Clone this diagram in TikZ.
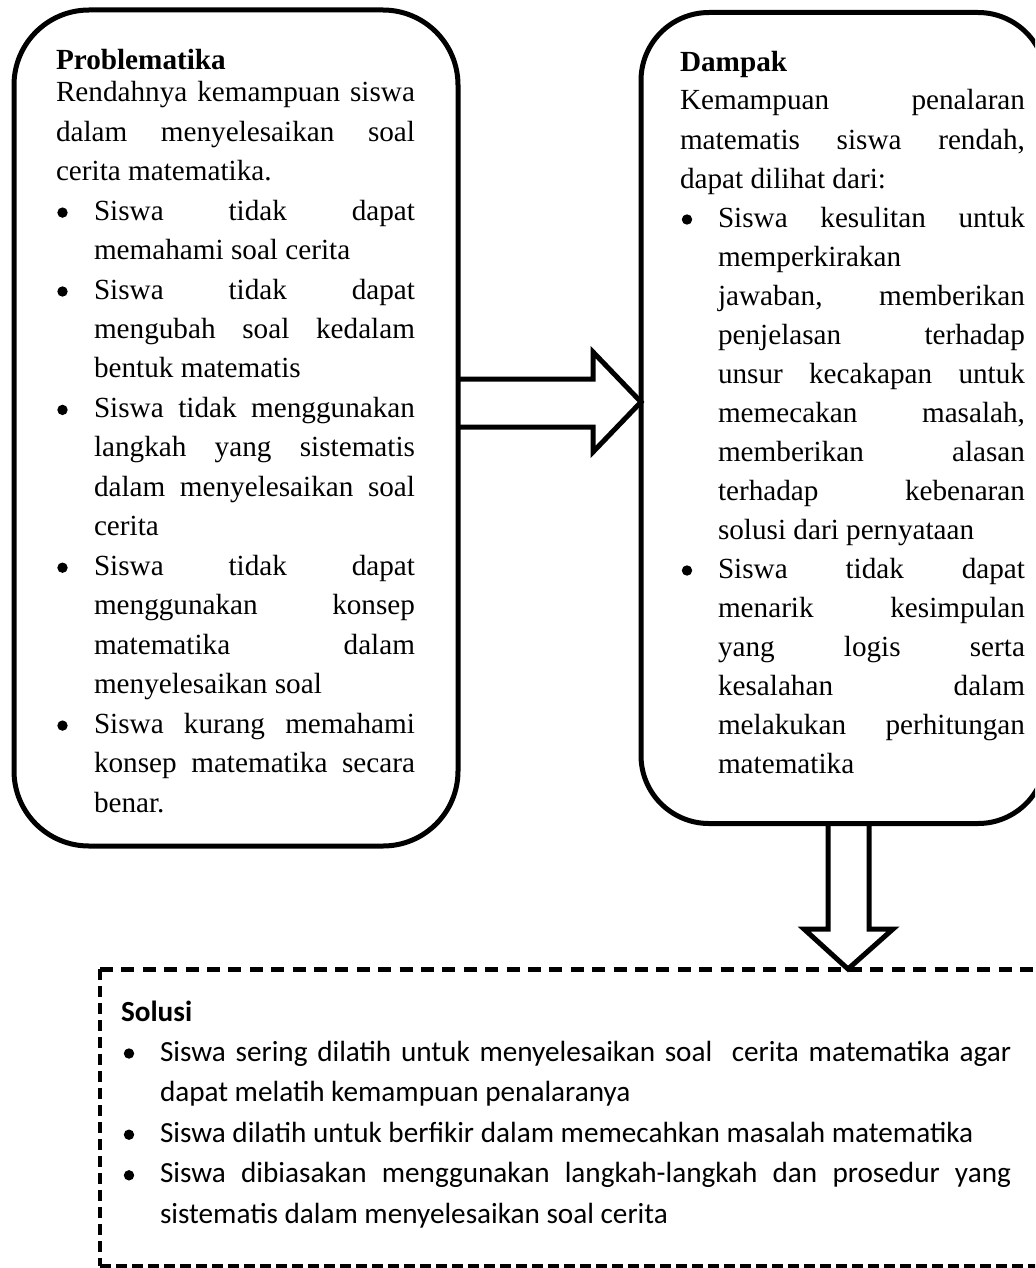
\documentclass[tikz,border=0pt]{standalone}
\usepackage{fontspec}
\setmainfont{Liberation Serif}
\newfontfamily\solfont{Carlito}
\usetikzlibrary{calc}
\newcommand{\jline}[5]{\node[txt] (#1) at (#2,#3) {\makebox[#4][s]{#5}};}
\newcommand{\lline}[4]{\node[txt] (#1) at (#2,#3) {#4};}
\newcommand{\bdot}[3]{\node[bulletsty] (#1) at (#2,{#3-7.5}) {};}
\tikzset{
  txt/.style={anchor=base west, inner sep=0pt, outer sep=0pt, font=\fontsize{14.6}{17}\selectfont},
  bulletsty/.style={circle, fill=black, inner sep=0pt, outer sep=0pt, minimum size=5.2pt},
  roundbox/.style={draw=black, line width=2.5pt, inner sep=0pt, outer sep=0pt},
  blockarrow/.style={draw=black, line width=2.5pt, line join=miter, miter limit=10},
  dashtop/.style={line width=2.5pt, dash pattern=on 6.5pt off 4.2pt},
  dashside/.style={line width=1.75pt, dash pattern=on 5.5pt off 3pt},
  dashbottom/.style={line width=1.6pt, dash pattern=on 5.5pt off 2.5pt}
}
\begin{document}
\begin{tikzpicture}[x=0.5pt,y=-0.5pt]
\useasboundingbox (0,0) rectangle (1035,1268);
\clip (0,0) rectangle (1035,1268);
\fill[white] (0,0) rectangle (1035,1268);

% boxes
\node[roundbox, rounded corners=37.5pt, minimum width=222pt, minimum height=418pt] (probbox) at (236,428) {};
\node[roundbox, rounded corners=34pt, minimum width=202.5pt, minimum height=405.5pt] (dampakbox) at (843.5,418) {};
\node[inner sep=0pt, outer sep=0pt, minimum width=472.5pt, minimum height=148.5pt] (solbox) at (572.5,1117.5) {};
\draw[dashtop] (solbox.north west) -- (solbox.north east);
\draw[dashside] (solbox.north west) -- (solbox.south west);
\draw[dashbottom] (solbox.south west) -- (solbox.south east);

% right block arrow
\draw[blockarrow] (probbox.east |- 0,379) -- (593,379) -- (593,352) -- (dampakbox.west |- 0,402) -- (593,452) -- (593,427) -- (probbox.east |- 0,427);
% down block arrow
\draw[blockarrow] (dampakbox.south -| 828,0) -- (828,929) -- (804,929) -- (solbox.north -| 848,0) -- (893,929) -- (869,929) -- (dampakbox.south -| 869,0);

% Problematika text
\lline{ph}{56}{70}{\textbf{Problematika}}
\jline{p0}{56}{101.7}{179.5pt}{Rendahnya kemampuan siswa}
\jline{p1}{56}{141.2}{179.5pt}{dalam menyelesaikan soal}
\lline{p2}{56}{180.6}{cerita matematika.}
\bdot{pb1}{62.5}{220.1}
\jline{p3}{94}{220.1}{160.5pt}{Siswa tidak dapat}
\lline{p4}{94}{259.5}{memahami soal cerita}
\bdot{pb2}{62.5}{299.0}
\jline{p5}{94}{299.0}{160.5pt}{Siswa tidak dapat}
\jline{p6}{94}{338.5}{160.5pt}{mengubah soal kedalam}
\lline{p7}{94}{377.9}{bentuk matematis}
\bdot{pb3}{62.5}{417.4}
\jline{p8}{94}{417.4}{160.5pt}{Siswa tidak menggunakan}
\jline{p9}{94}{456.8}{160.5pt}{langkah yang sistematis}
\jline{p10}{94}{496.3}{160.5pt}{dalam menyelesaikan soal}
\lline{p11}{94}{535.8}{cerita}
\bdot{pb4}{62.5}{575.2}
\jline{p12}{94}{575.2}{160.5pt}{Siswa tidak dapat}
\jline{p13}{94}{614.7}{160.5pt}{menggunakan konsep}
\jline{p14}{94}{654.1}{160.5pt}{matematika dalam}
\lline{p15}{94}{693.6}{menyelesaikan soal}
\bdot{pb5}{62.5}{733.1}
\jline{p16}{94}{733.1}{160.5pt}{Siswa kurang memahami}
\jline{p17}{94}{772.5}{160.5pt}{konsep matematika secara}
\lline{p18}{94}{812.0}{benar.}

% Dampak text
\lline{dh}{680}{71.5}{\textbf{Dampak}}
\jline{d0}{680}{110}{172.5pt}{Kemampuan penalaran}
\jline{d1}{680}{149}{172.5pt}{matematis siswa rendah,}
\lline{d2}{680}{188}{dapat dilihat dari:}
\bdot{db1}{687}{227}
\jline{d3}{718}{227}{153.5pt}{Siswa kesulitan untuk}
\lline{d4}{718}{266}{memperkirakan}
\jline{d5}{718}{305}{153.5pt}{jawaban, memberikan}
\jline{d6}{718}{344}{153.5pt}{penjelasan terhadap}
\jline{d7}{718}{383}{153.5pt}{unsur kecakapan untuk}
\jline{d8}{718}{422}{153.5pt}{memecakan masalah,}
\jline{d9}{718}{461}{153.5pt}{memberikan alasan}
\jline{d10}{718}{500}{153.5pt}{terhadap kebenaran}
\lline{d11}{718}{539}{solusi dari pernyataan}
\bdot{db2}{687}{578}
\jline{d12}{718}{578}{153.5pt}{Siswa tidak dapat}
\jline{d13}{718}{617}{153.5pt}{menarik kesimpulan}
\jline{d14}{718}{656}{153.5pt}{yang logis serta}
\jline{d15}{718}{695}{153.5pt}{kesalahan dalam}
\jline{d16}{718}{734}{153.5pt}{melakukan perhitungan}
\lline{d17}{718}{773}{matematika}

% Solusi text
\begin{scope}[txt/.append style={font=\fontsize{14.6}{17}\selectfont\solfont}]
\lline{sh}{121}{1021.7}{\textbf{Solusi}}
\bdot{sb1}{129}{1061}
\jline{s0}{160}{1061}{425.5pt}{Siswa sering dilatih untuk menyelesaikan soal\ \ cerita matematika agar}
\lline{s1}{160}{1101.6}{dapat melatih kemampuan penalaranya}
\bdot{sb2}{129}{1142.2}
\lline{s2}{160}{1142.2}{Siswa dilatih untuk berfikir dalam memecahkan masalah matematika}
\bdot{sb3}{129}{1182.8}
\jline{s3}{160}{1182.8}{425.5pt}{Siswa dibiasakan menggunakan langkah-langkah dan prosedur yang}
\lline{s4}{160}{1223.4}{sistematis dalam menyelesaikan soal cerita}
\end{scope}
\end{tikzpicture}
\end{document}
